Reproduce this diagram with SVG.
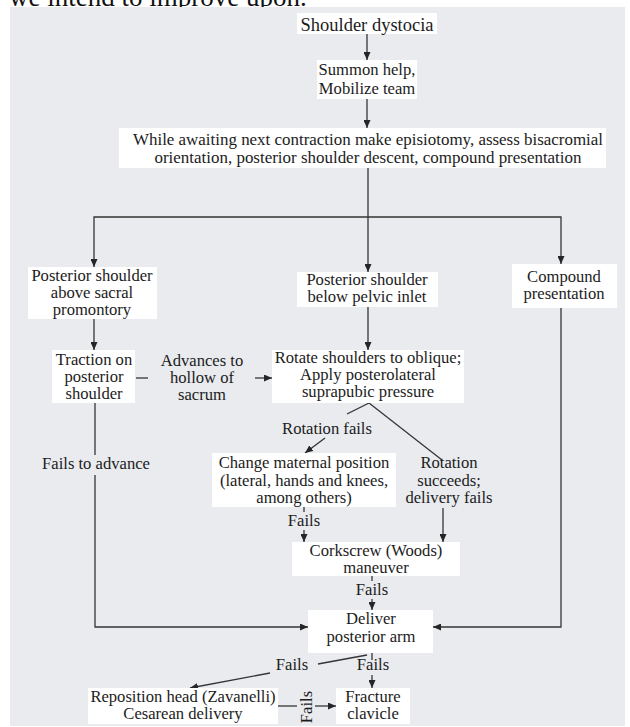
<svg xmlns="http://www.w3.org/2000/svg" width="630" height="727" viewBox="0 0 630 727" font-family="'Liberation Serif', 'Times New Roman', serif">
<defs>
<style>
.bx{fill:#ffffff}
.t{font-size:16.6px;fill:#1c1c1c;text-anchor:middle}
.c{stroke:#353535;stroke-width:1.3;fill:none}
.a{marker-end:url(#ah)}
</style>
<marker id="ah" markerUnits="userSpaceOnUse" markerWidth="8" markerHeight="7" refX="8" refY="3.5" orient="auto">
<path d="M0,0 L8,3.5 L0,7 z" fill="#252525"/>
</marker>
</defs>
<rect x="0" y="0" width="630" height="727" fill="#ffffff"/>
<text x="9" y="6" style="font-family:'Liberation Serif','Times New Roman',serif;font-size:27px;fill:#111">we intend to improve upon.</text>
<rect x="10" y="7" width="615" height="719" fill="#e9ebef"/>

<g id="connectors">
<path class="c a" d="M367,34 V60"/>
<path class="c a" d="M367,99 V128"/>
<path class="c a" d="M368,168 V272"/>
<path class="c a" d="M368,217 H94 V267"/>
<path class="c a" d="M368,217 H561 V264"/>
<path class="c a" d="M94,319 V350"/>
<path class="c a" d="M368,307 V350"/>
<path class="c" d="M136,378 H148"/>
<path class="c a" d="M255,378 H272"/>
<path class="c" d="M369,403 L347,414"/>
<path class="c a" d="M325,438 L305,453"/>
<path class="c" d="M369,403 L442,460"/>
<path class="c a" d="M443,508 V542"/>
<path class="c" d="M304,507 V512"/>
<path class="c a" d="M304,530 V542"/>
<path class="c" d="M372,576 V581"/>
<path class="c a" d="M372,599 V610"/>
<path class="c" d="M95,403 V455"/>
<path class="c a" d="M95,475 V627 H308"/>
<path class="c a" d="M561,308 V627 H433"/>
<path class="c" d="M372,653 V660"/>
<path class="c a" d="M372,675 V688"/>
<path class="c" d="M367,655 L318,664"/>
<path class="c a" d="M270,673 L190,688"/>
<path class="c" d="M278,706 H297"/>
<path class="c a" d="M315,706 H336"/>
</g>

<g id="labels" font-family="'Liberation Serif', 'Times New Roman', serif">
<text class="t" x="202" y="366">Advances to</text>
<text class="t" x="202" y="383">hollow of</text>
<text class="t" x="202" y="400">sacrum</text>
<text class="t" x="327" y="434">Rotation fails</text>
<text class="t" x="449" y="468">Rotation</text>
<text class="t" x="449" y="486">succeeds;</text>
<text class="t" x="449" y="503">delivery  fails</text>
<text class="t" x="96" y="469">Fails to advance</text>
<text class="t" x="304" y="526">Fails</text>
<text class="t" x="372" y="595">Fails</text>
<text class="t" x="373" y="670">Fails</text>
<text class="t" x="292" y="670">Fails</text>
<text class="t" transform="translate(312,707) rotate(-90)" x="0" y="0">Fails</text>
</g>

<g id="nodes" font-family="'Liberation Serif', 'Times New Roman', serif">
<g id="n1">
<rect class="bx" x="297" y="13" width="140" height="21"/>
<text class="t" x="367" y="30.5" style="font-size:18.5px">Shoulder dystocia</text>
</g>
<g id="n2">
<rect class="bx" x="317" y="60" width="100" height="39"/>
<text class="t" x="367" y="75">Summon help,</text>
<text class="t" x="367" y="94">Mobilize  team</text>
</g>
<g id="n3">
<rect class="bx" x="119" y="128" width="487" height="40"/>
<text class="t" x="368" y="145" textLength="470" lengthAdjust="spacingAndGlyphs">While awaiting  next contraction make episiotomy, assess bisacromial</text>
<text class="t" x="368" y="163" textLength="427" lengthAdjust="spacingAndGlyphs">orientation,  posterior shoulder descent, compound presentation</text>
</g>
<g id="n4">
<rect class="bx" x="28" y="267" width="129" height="52"/>
<text class="t" x="92" y="281">Posterior shoulder</text>
<text class="t" x="92" y="298">above sacral</text>
<text class="t" x="92" y="315">promontory</text>
</g>
<g id="n5">
<rect class="bx" x="297" y="272" width="141" height="35"/>
<text class="t" x="367" y="285">Posterior shoulder</text>
<text class="t" x="367" y="302">below pelvic  inlet</text>
</g>
<g id="n6">
<rect class="bx" x="512" y="264" width="105" height="44"/>
<text class="t" x="564" y="282">Compound</text>
<text class="t" x="564" y="299">presentation</text>
</g>
<g id="n7">
<rect class="bx" x="52" y="350" width="83" height="53"/>
<text class="t" x="94" y="365">Traction on</text>
<text class="t" x="94" y="382">posterior</text>
<text class="t" x="94" y="399">shoulder</text>
</g>
<g id="n8">
<rect class="bx" x="272" y="350" width="192" height="53"/>
<text class="t" x="368" y="363">Rotate shoulders to oblique;</text>
<text class="t" x="368" y="380">Apply posterolateral</text>
<text class="t" x="368" y="397">suprapubic pressure</text>
</g>
<g id="n9">
<rect class="bx" x="212" y="453" width="184" height="54"/>
<text class="t" x="304" y="468">Change maternal  position</text>
<text class="t" x="304" y="486">(lateral,  hands and knees,</text>
<text class="t" x="304" y="503">among others)</text>
</g>
<g id="n10">
<rect class="bx" x="292" y="542" width="168" height="34"/>
<text class="t" x="376" y="556">Corkscrew (Woods)</text>
<text class="t" x="376" y="573">maneuver</text>
</g>
<g id="n11">
<rect class="bx" x="308" y="610" width="125" height="43"/>
<text class="t" x="371" y="624">Deliver</text>
<text class="t" x="371" y="642">posterior arm</text>
</g>
<g id="n12">
<rect class="bx" x="88" y="688" width="190" height="36"/>
<text class="t" x="183" y="702">Reposition head (Zavanelli)</text>
<text class="t" x="183" y="719">Cesarean delivery</text>
</g>
<g id="n13">
<rect class="bx" x="336" y="688" width="74" height="36"/>
<text class="t" x="373" y="702">Fracture</text>
<text class="t" x="373" y="719">clavicle</text>
</g>
</g>
</svg>
